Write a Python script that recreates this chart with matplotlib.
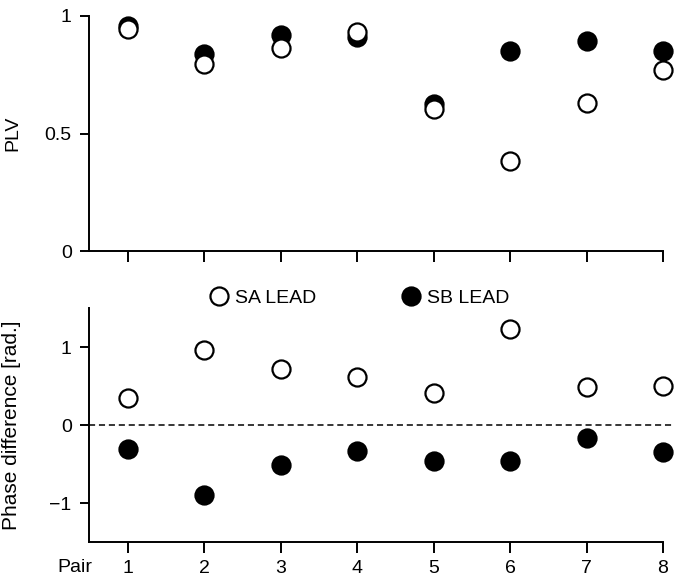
import matplotlib
matplotlib.use('Agg')
import matplotlib.pyplot as plt
import numpy as np

plt.rcParams['font.family'] = ['Liberation Sans', 'DejaVu Sans']

# Data
pairs = [1, 2, 3, 4, 5, 6, 7, 8]
plv_sa = [0.945, 0.796, 0.864, 0.932, 0.604, 0.383, 0.630, 0.770]
plv_sb = [0.957, 0.838, 0.919, 0.910, 0.626, 0.851, 0.894, 0.851]
phase_sa = [0.35, 0.96, 0.72, 0.62, 0.41, 1.23, 0.49, 0.50]
phase_sb = [-0.31, -0.90, -0.51, -0.33, -0.46, -0.46, -0.17, -0.35]

W, H = 678, 584
fig = plt.figure(figsize=(W / 100, H / 100), dpi=100)

ax1 = fig.add_axes([89 / W, 1 - 251 / H, (663 - 89) / W, (251 - 16) / H])
ax2 = fig.add_axes([89 / W, 1 - 542 / H, (663 - 89) / W, (542 - 308) / H])

ms = 13
mew = 1.6
fs = 14

def style(ax):
    for s in ['top', 'right']:
        ax.spines[s].set_visible(False)
    for s in ['left', 'bottom']:
        ax.spines[s].set_linewidth(1.4)
    ax.set_xlim(0.49, 8)
    ax.set_xticks(pairs)
    ax.tick_params(axis='y', direction='out', length=6.5, width=1.4, labelsize=fs, pad=6)
    ax.tick_params(axis='x', direction='out', length=8, width=1.4, labelsize=fs, pad=5)
    ax.yaxis.set_label_coords(-0.118, 0.5)

# top: PLV
ax1.plot(pairs, plv_sb, 'o', ms=ms, mfc='black', mec='black', mew=mew, clip_on=False, zorder=3)
ax1.plot(pairs, plv_sa, 'o', ms=ms, mfc='white', mec='black', mew=mew, clip_on=False, zorder=4)
style(ax1)
ax1.set_ylim(0, 1)
ax1.set_yticks([0, 0.5, 1])
ax1.set_yticklabels(['0', '0.5', '1'])
ax1.set_xticklabels([])
ax1.set_ylabel('PLV', fontsize=fs)

# bottom: phase difference
ax2.plot([0.49, 8.15], [0, 0], '--', color='black', lw=1.1, dashes=(4, 2.5), clip_on=False)
sb, = ax2.plot(pairs, phase_sb, 'o', ms=ms, mfc='black', mec='black', mew=mew, clip_on=False, zorder=3)
sa, = ax2.plot(pairs, phase_sa, 'o', ms=ms, mfc='white', mec='black', mew=mew, clip_on=False, zorder=4)
style(ax2)
ax2.set_ylim(-1.5, 1.5)
ax2.set_yticks([-1, 0, 1])
ax2.set_yticklabels(['\u22121', '0', '1'])
ax2.set_ylabel('Phase difference [rad.]', fontsize=15)
fig.text(75 / W, 1 - 567 / H, 'Pair', ha='center', va='center', fontsize=fs)

ax2.legend([sa, sb], ['SA LEAD', 'SB LEAD'], ncol=2, frameon=False, fontsize=fs,
           loc='center left', bbox_to_anchor=(0.206, 1.043), borderpad=0, borderaxespad=0,
           handletextpad=0.22, columnspacing=4.3, handlelength=1.2)

fig.savefig('out.png', dpi=100)
